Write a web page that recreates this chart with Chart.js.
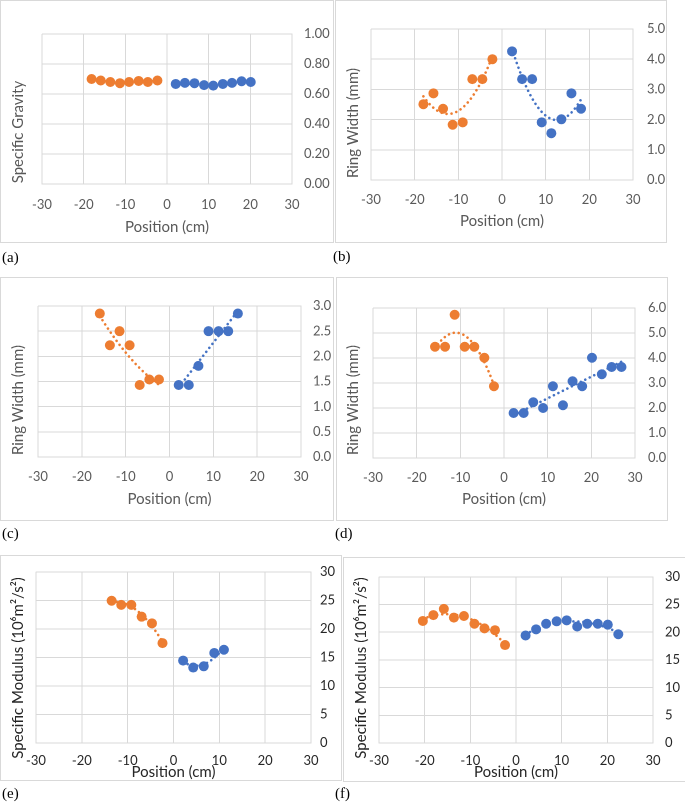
<!DOCTYPE html>
<html><head><meta charset="utf-8">
<script src="https://cdn.jsdelivr.net/npm/chart.js@4.4.0/dist/chart.umd.min.js"></script>
<style>
html,body{margin:0;padding:0;background:#fff;width:685px;height:803px;overflow:hidden;}
.box{position:absolute;border:1px solid #D9D9D9;box-sizing:border-box;}
canvas{position:absolute;}
.yt{position:absolute;transform:translate(-50%,-50%) rotate(-90deg);white-space:nowrap;font-family:Lato;font-size:15px;}
.lab{position:absolute;font-family:"Liberation Serif";font-size:15px;color:#000;transform:translateY(-50%);}
</style></head><body>
<script>
// ---------- data ----------
const xTicks = [-30, -20, -10, 0, 10, 20, 30];
const xTickLabels = ["-30", "-20", "-10", "0", "10", "20", "30"];
const xTitle = "Position (cm)";

// (a) Specific gravity
const aOrangeX = [-18.1, -15.9, -13.6, -11.3, -9.1, -6.8, -4.6, -2.3];
const aOrangeY = [0.70, 0.69, 0.68, 0.672, 0.68, 0.687, 0.68, 0.69];
const aBlueX = [2.1, 4.3, 6.6, 8.9, 11.1, 13.4, 15.6, 17.9, 20.1];
const aBlueY = [0.667, 0.674, 0.672, 0.659, 0.656, 0.667, 0.674, 0.685, 0.68];
const aYTicks = ["0.00", "0.20", "0.40", "0.60", "0.80", "1.00"];
const aYTitle = "Specific Gravity";

// (b) Ring width
const bOrangeX = [-18.0, -15.7, -13.5, -11.3, -9.0, -6.8, -4.5, -2.2];
const bOrangeY = [2.51, 2.87, 2.36, 1.83, 1.91, 3.34, 3.34, 4.00];
const bBlueX = [2.3, 4.6, 6.9, 9.1, 11.3, 13.6, 15.9, 18.1];
const bBlueY = [4.26, 3.34, 3.34, 1.91, 1.55, 2.01, 2.87, 2.36];
const bYTicks = ["0.0", "1.0", "2.0", "3.0", "4.0", "5.0"];
const bYTitle = "Ring Width (mm)";

// (c) Ring width
const cOrangeX = [-15.9, -13.6, -11.4, -9.1, -6.8, -4.6, -2.4];
const cOrangeY = [2.85, 2.22, 2.50, 2.22, 1.43, 1.54, 1.54];
const cBlueX = [2.1, 4.4, 6.6, 8.9, 11.2, 13.4, 15.6];
const cBlueY = [1.43, 1.43, 1.81, 2.50, 2.50, 2.50, 2.85];
const cYTicks = ["0.0", "0.5", "1.0", "1.5", "2.0", "2.5", "3.0"];
const cYTitle = "Ring Width (mm)";

// (d) Ring width
const dOrangeX = [-15.8, -13.5, -11.3, -9.0, -6.8, -4.5, -2.3];
const dOrangeY = [4.45, 4.45, 5.73, 4.45, 4.45, 4.01, 2.87];
const dBlueX = [2.2, 4.5, 6.7, 8.95, 11.2, 13.5, 15.7, 17.9, 20.15, 22.4, 24.65, 26.9];
const dBlueY = [1.80, 1.80, 2.23, 2.00, 2.87, 2.11, 3.07, 2.87, 4.01, 3.35, 3.64, 3.64];
const dYTicks = ["0.0", "1.0", "2.0", "3.0", "4.0", "5.0", "6.0"];
const dYTitle = "Ring Width (mm)";

// (e) Specific modulus
const eOrangeX = [-13.5, -11.4, -9.2, -6.95, -4.7, -2.4];
const eOrangeY = [24.93, 24.2, 24.2, 22.14, 20.97, 17.51];
const eBlueX = [2.1, 4.3, 6.6, 8.9, 11.0];
const eBlueY = [14.44, 13.22, 13.44, 15.78, 16.34];
const eYTicks = ["0", "5", "10", "15", "20", "25", "30"];
const eYTitle = "Specific Modulus (10\u2076m\u00B2/s\u00B2)";

// (f) Specific modulus
const fOrangeX = [-20.4, -18.1, -15.8, -13.6, -11.4, -9.1, -6.9, -4.6, -2.4];
const fOrangeY = [22.03, 23.09, 24.2, 22.64, 22.92, 21.53, 20.69, 20.36, 17.68];
const fBlueX = [2.1, 4.4, 6.6, 8.9, 11.1, 13.4, 15.6, 17.9, 20.1, 22.4];
const fBlueY = [19.41, 20.52, 21.53, 21.97, 22.14, 21.03, 21.53, 21.53, 21.36, 19.63];
const fYTicks = ["0", "5", "10", "15", "20", "25", "30"];
const fYTitle = "Specific Modulus (10\u2076m\u00B2/s\u00B2)";

const panelLabels = ["(a)", "(b)", "(c)", "(d)", "(e)", "(f)"];

// ---------- style / layout ----------
const ORANGE = "#ED7D31", BLUE = "#4472C4", GRID = "#D9D9D9", TXT = "#595959", TXT2 = "#262626";

const panels = [
  {lab: panelLabels[0], ox: aOrangeX, oy: aOrangeY, bx: aBlueX, by: aBlueY, yt: aYTicks, ytitle: aYTitle, deg: [2, 2], col: TXT,
   box: [0, 0, 334, 243], plot: [42, 34, 292, 184], tickPad: 13, yPad: 12, titlePad: 7, ytpos: [17, 132], labpos: [2, 257]},
  {lab: panelLabels[1], ox: bOrangeX, oy: bOrangeY, bx: bBlueX, by: bBlueY, yt: bYTicks, ytitle: bYTitle, deg: [2, 2], col: TXT,
   box: [335, 0, 667, 243], plot: [371, 29, 633, 180], tickPad: 12, yPad: 14, titlePad: 13, ytpos: [352, 123], labpos: [333, 256]},
  {lab: panelLabels[2], ox: cOrangeX, oy: cOrangeY, bx: cBlueX, by: cBlueY, yt: cYTicks, ytitle: cYTitle, deg: [2, 1], col: TXT,
   box: [0, 277, 334, 521], plot: [38, 306, 301, 457], tickPad: 12, yPad: 12, titlePad: 13, ytpos: [17, 400], labpos: [2, 533]},
  {lab: panelLabels[3], ox: dOrangeX, oy: dOrangeY, bx: dBlueX, by: dBlueY, yt: dYTicks, ytitle: dYTitle, deg: [2, 1], col: TXT,
   box: [336, 277, 668, 521], plot: [373, 308, 635, 458], tickPad: 12, yPad: 13, titlePad: 13, ytpos: [352, 400], labpos: [335, 533]},
  {lab: panelLabels[4], ox: eOrangeX, oy: eOrangeY, bx: eBlueX, by: eBlueY, yt: eYTicks, ytitle: eYTitle, deg: [2, 2], col: TXT2,
   box: [0, 555, 342, 781], plot: [36, 563, 311, 743], tickPad: 10, yPad: 9, titlePad: 0, ytpos: [17, 668], labpos: [2, 793]},
  {lab: panelLabels[5], ox: fOrangeX, oy: fOrangeY, bx: fBlueX, by: fBlueY, yt: fYTicks, ytitle: fYTitle, deg: [2, 2], col: TXT2,
   box: [343, 557, 687, 782], plot: [379, 563, 653, 743], tickPad: 10, yPad: 12, titlePad: 1, ytpos: [360, 668], labpos: [335, 793]}
];

// least-squares polynomial trendline of the data (like Excel's trendline)
function polyfit(xs, ys, deg) {
  const n = deg + 1;
  const A = [];
  for (let i = 0; i < n; i++) {
    A.push(new Array(n + 1).fill(0));
    for (let j = 0; j < n; j++) A[i][j] = xs.reduce((s, x) => s + Math.pow(x, i + j), 0);
    A[i][n] = xs.reduce((s, x, k) => s + ys[k] * Math.pow(x, i), 0);
  }
  for (let c = 0; c < n; c++) {
    let p = c;
    for (let r = c + 1; r < n; r++) if (Math.abs(A[r][c]) > Math.abs(A[p][c])) p = r;
    [A[c], A[p]] = [A[p], A[c]];
    for (let r = 0; r < n; r++) {
      if (r === c) continue;
      const f = A[r][c] / A[c][c];
      for (let k = c; k <= n; k++) A[r][k] -= f * A[c][k];
    }
  }
  return A.map((row, i) => row[n] / A[i][i]);
}
function trend(xs, ys, deg) {
  const co = polyfit(xs, ys, deg);
  const lo = Math.min(...xs), hi = Math.max(...xs);
  const pts = [];
  const N = 80;
  for (let i = 0; i <= N; i++) {
    const x = lo + (hi - lo) * i / N;
    pts.push({x, y: co.reduce((s, c, k) => s + c * Math.pow(x, k), 0)});
  }
  return pts;
}
const zip = (xs, ys) => xs.map((x, i) => ({x, y: ys[i]}));

panels.forEach(p => {
  const [bl, bt, br, bb] = p.box;
  const [pl, pt, pr, pb] = p.plot;
  const w = br - bl, h = bb - bt;
  const box = document.createElement("div");
  box.className = "box";
  Object.assign(box.style, {left: bl + "px", top: bt + "px", width: w + "px", height: h + "px"});
  document.body.appendChild(box);
  const cv = document.createElement("canvas");
  Object.assign(cv.style, {left: bl + "px", top: bt + "px", width: w + "px", height: h + "px"});
  cv.width = w; cv.height = h;
  document.body.appendChild(cv);

  const yt = document.createElement("div");
  yt.className = "yt"; yt.textContent = p.ytitle; yt.style.color = p.col;
  yt.style.left = p.ytpos[0] + "px"; yt.style.top = p.ytpos[1] + "px";
  document.body.appendChild(yt);
  const lb = document.createElement("div");
  lb.className = "lab"; lb.textContent = p.lab;
  lb.style.left = p.labpos[0] + "px"; lb.style.top = p.labpos[1] + "px";
  document.body.appendChild(lb);

  const yVals = p.yt.map(parseFloat);
  const lineDs = (xs, ys, deg, col) => ({
    type: "line", data: trend(xs, ys, deg), borderColor: col, borderWidth: 2.6,
    borderDash: [0.001, 5], borderCapStyle: "round", pointRadius: 0, fill: false, tension: 0, order: 0
  });
  const ptDs = (xs, ys, col) => ({
    type: "scatter", data: zip(xs, ys), backgroundColor: col, borderColor: col,
    pointRadius: 5, pointBorderWidth: 0, pointHoverRadius: 5, order: 1
  });

  new Chart(cv, {
    data: {datasets: [
      lineDs(p.ox, p.oy, p.deg[0], ORANGE), lineDs(p.bx, p.by, p.deg[1], BLUE),
      ptDs(p.ox, p.oy, ORANGE), ptDs(p.bx, p.by, BLUE)
    ]},
    options: {
      responsive: false, animation: false, devicePixelRatio: 2,
      layout: {padding: {left: pl - bl, top: pt - bt, right: 0, bottom: 0}},
      plugins: {legend: {display: false}, tooltip: {enabled: false}},
      scales: {
        x: {
          type: "linear", position: "bottom", min: xTicks[0], max: xTicks[xTicks.length - 1],
          afterBuildTicks: s => { s.ticks = xTicks.map(v => ({value: v})); },
          ticks: {padding: p.tickPad, color: p.col, font: {family: "Lato", size: 13}, maxRotation: 0,
                  callback: (v, i) => xTickLabels[i]},
          grid: {color: GRID, drawTicks: false, lineWidth: 1},
          border: {color: GRID},
          title: {display: true, text: xTitle, color: p.col, font: {family: "Lato", size: 15}, padding: {top: 0, bottom: p.titlePad}},
          afterFit: s => { s.height = bb - pb; }
        },
        y: {
          type: "linear", position: "right", min: yVals[0], max: yVals[yVals.length - 1],
          afterBuildTicks: s => { s.ticks = yVals.map(v => ({value: v})); },
          ticks: {padding: p.yPad, color: p.col, font: {family: "Lato", size: 13},
                  callback: (v, i) => p.yt[i]},
          grid: {color: GRID, drawTicks: false, lineWidth: 1},
          border: {color: GRID},
          afterFit: s => { s.width = br - pr; }
        }
      }
    }
  });
});
</script>
</body></html>
